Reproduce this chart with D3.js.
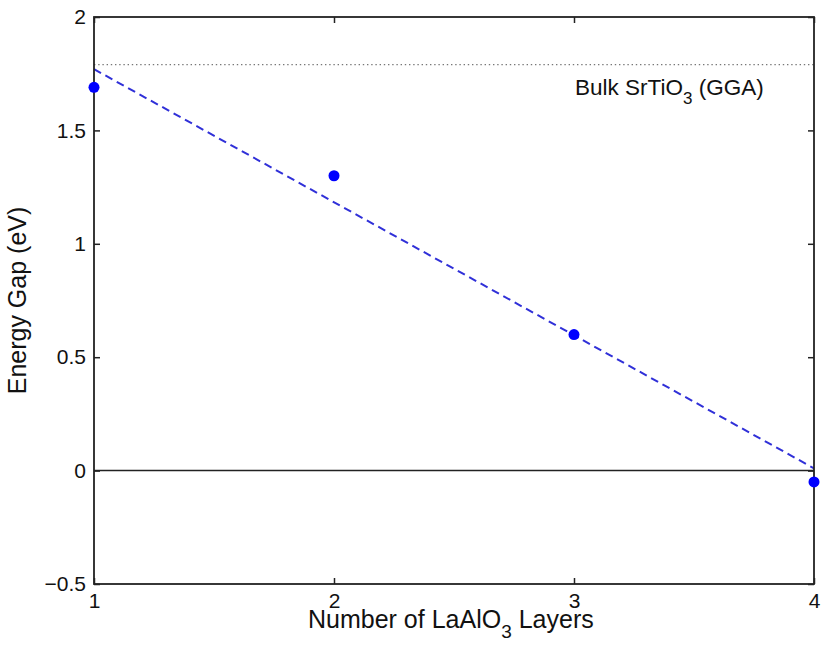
<!DOCTYPE html>
<html>
<head>
<meta charset="utf-8">
<script src="https://cdn.jsdelivr.net/npm/d3@7"></script>
<style>
  body { margin: 0; background: #fff; }
  text { font-family: "Liberation Sans", Arial, sans-serif; fill: #111; }
</style>
</head>
<body>
<div id="chart"></div>
<script>
// data
let layers = [1, 2, 3, 4]
let energyGap = [1.69, 1.30, 0.60, -0.05]
let fitEnds = [1.77, 0.01]   // dashed fit at x = 1 and x = 4
let bulkGap = 1.79
let xTicks = [1, 2, 3, 4]
let yTicks = [-0.5, 0, 0.5, 1, 1.5, 2]

let margin = { top: 17, left: 94, right: 11, bottom: 65 }
let width = 825 - margin.left - margin.right
let height = 649 - margin.top - margin.bottom

let svg = d3
  .select('#chart')
  .append('svg')
  .attr('width', 825)
  .attr('height', 649)
  .append('g')
  .attr('transform', 'translate(' + margin.left + ',' + margin.top + ')')

let x = d3.scaleLinear().domain([1, 4]).range([0, width])
let y = d3.scaleLinear().domain([-0.5, 2]).range([height, 0])

// zero line
svg
  .append('line')
  .attr('x1', 0)
  .attr('x2', width)
  .attr('y1', y(0))
  .attr('y2', y(0))
  .attr('stroke', '#222')
  .attr('stroke-width', 1.5)

// bulk gap dotted line
svg
  .append('line')
  .attr('x1', 0)
  .attr('x2', width)
  .attr('y1', y(bulkGap))
  .attr('y2', y(bulkGap))
  .attr('stroke', '#777')
  .attr('stroke-width', 1.3)
  .attr('stroke-dasharray', '1.4,2.8')

svg
  .append('text')
  .attr('x', 481)
  .attr('y', y(bulkGap) + 30)
  .attr('font-size', 22.5)
  .html('Bulk SrTiO<tspan dy="9" font-size="17">3</tspan><tspan dy="-9"> (GGA)</tspan>')

// dashed fit line
svg
  .append('line')
  .attr('x1', x(1))
  .attr('x2', x(4))
  .attr('y1', y(fitEnds[0]))
  .attr('y2', y(fitEnds[1]))
  .attr('stroke', '#3030d8')
  .attr('stroke-width', 2)
  .attr('stroke-dasharray', '8,5')

// frame
svg
  .append('rect')
  .attr('width', width)
  .attr('height', height)
  .attr('fill', 'none')
  .attr('stroke', '#222')
  .attr('stroke-width', 1.8)

// axes, ticks inward
let xAxis = svg
  .append('g')
  .attr('transform', 'translate(0,' + height + ')')
  .call(d3.axisBottom(x).tickValues(xTicks).tickSize(-6).tickPadding(9).tickFormat(d3.format('d')))
let xTop = svg
  .append('g')
  .call(d3.axisTop(x).tickValues(xTicks).tickSize(-6).tickFormat(''))
let yAxis = svg
  .append('g')
  .call(d3.axisLeft(y).tickValues(yTicks).tickSize(-6).tickPadding(8).tickFormat(d => d3.format('')(d).replace('-', '\u2212')))
let yRight = svg
  .append('g')
  .attr('transform', 'translate(' + width + ',0)')
  .call(d3.axisRight(y).tickValues(yTicks).tickSize(-6).tickFormat(''))

;[xAxis, xTop, yAxis, yRight].forEach(g => {
  g.select('.domain').remove()
  g.selectAll('.tick line').attr('stroke', '#222').attr('stroke-width', 1.5)
  g.selectAll('.tick text').attr('font-size', 21).attr('fill', '#111')
    .style('font-family', '"Liberation Sans", Arial, sans-serif')
})

// points
svg
  .selectAll('.pt')
  .data(layers)
  .enter()
  .append('circle')
  .attr('class', 'pt')
  .attr('cx', d => x(d))
  .attr('cy', (d, i) => y(energyGap[i]))
  .attr('r', 5.5)
  .attr('fill', '#0000ff')

// axis labels
svg
  .append('text')
  .attr('x', 214)
  .attr('y', height + 44)
  .attr('font-size', 25)
  .html('Number of LaAlO<tspan dy="10" font-size="19">3</tspan><tspan dy="-10"> Layers</tspan>')

svg
  .append('text')
  .attr('transform', 'translate(-68,' + y(0.75) + ') rotate(-90)')
  .attr('text-anchor', 'middle')
  .attr('font-size', 25)
  .text('Energy Gap (eV)')
</script>
</body>
</html>
